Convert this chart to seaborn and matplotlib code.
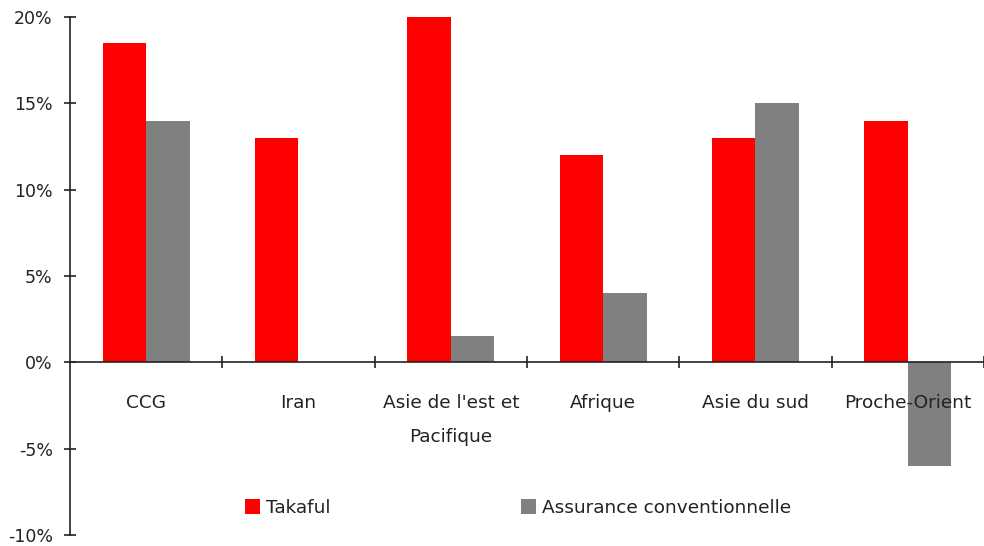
import matplotlib
matplotlib.use("Agg")
import matplotlib.pyplot as plt
import seaborn as sns
import pandas as pd
import numpy as np
from matplotlib.ticker import FuncFormatter, FixedLocator

categories = ["CCG", "Iran", "Asie de l'est et\nPacifique", "Afrique", "Asie du sud", "Proche-Orient"]
takaful = [18.5, 13.0, 20.0, 12.0, 13.0, 14.0]
conventionnelle = [14.0, 0.0, 1.5, 4.0, 15.0, -6.0]
series_names = ["Takaful", "Assurance conventionnelle"]
yticks = [-10, -5, 0, 5, 10, 15, 20]

df = pd.DataFrame({
    "region": categories * 2,
    "value": takaful + conventionnelle,
    "series": [series_names[0]] * len(categories) + [series_names[1]] * len(categories),
})

sns.set_theme(style="white")
plt.rcParams["font.family"] = ["DejaVu Sans"]
plt.rcParams["axes.unicode_minus"] = False

fig = plt.figure(figsize=(9.84, 5.46), dpi=100)
ax = fig.add_axes([70 / 984, 1 - 535 / 546, 914 / 984, 518 / 546])

sns.barplot(data=df, x="region", y="value", hue="series", order=categories,
            hue_order=series_names, palette=["#FF0000", "#808080"],
            saturation=1, width=0.57, gap=0, ax=ax, legend=True,
            linewidth=0, edgecolor="none")

ax.set_ylim(-10, 20)
ax.set_xlim(-0.5, len(categories) - 0.5)
ax.set_yticks(yticks)
ax.yaxis.set_major_formatter(FuncFormatter(lambda v, p: f"{int(v)}%"))
ax.set_xlabel("")
ax.set_ylabel("")
ax.set_axisbelow(False)

for s in ["top", "right"]:
    ax.spines[s].set_visible(False)
ax.spines["left"].set_color("#222222")
ax.spines["left"].set_linewidth(1.2)
ax.spines["bottom"].set_position(("data", 0))
ax.spines["bottom"].set_color("#222222")
ax.spines["bottom"].set_linewidth(1.2)

ax.tick_params(axis="y", which="major", direction="inout", length=9, width=1.2,
               color="#222222", labelsize=12.5, labelcolor="#222222", pad=8, left=True)
ax.tick_params(axis="x", which="major", length=0, pad=23, labelsize=13.3, labelcolor="#222222")
ax.xaxis.set_minor_locator(FixedLocator(np.arange(0.5, len(categories), 1.0)))
ax.tick_params(axis="x", which="minor", direction="inout", length=9, width=1.2,
               color="#222222", bottom=True)
for lbl in ax.get_xticklabels():
    lbl.set_linespacing(2.1)
    lbl.set_verticalalignment("top")

handles, labels = ax.get_legend_handles_labels()
ax.legend(handles, labels, ncol=2, frameon=False, loc="center",
          bbox_to_anchor=(0.49, 0.052), fontsize=13.3,
          handlelength=0.85, handleheight=0.85, handletextpad=0.3,
          columnspacing=10.3, labelcolor="#222222")

fig.savefig("out.png", dpi=100)
